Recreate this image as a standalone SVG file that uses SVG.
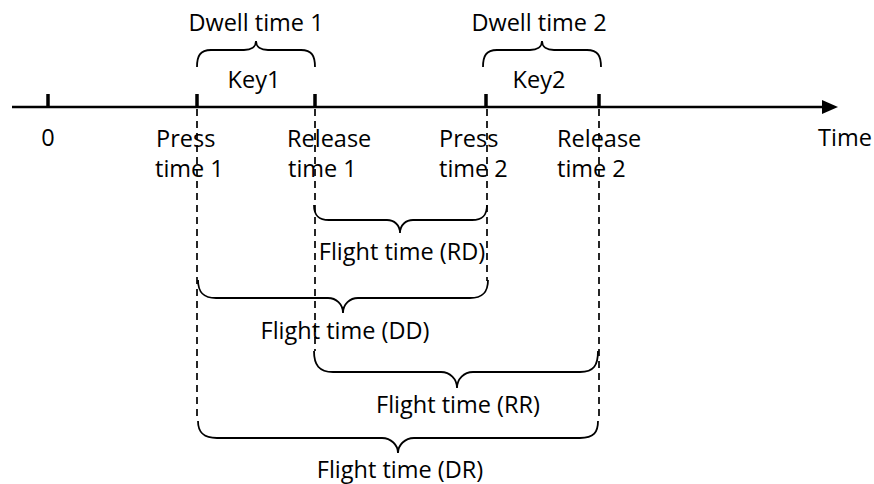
<svg xmlns="http://www.w3.org/2000/svg" width="874" height="484" viewBox="0 0 874 484">
  <style>
    text { font-family: "Open Sans", "Liberation Sans", sans-serif; font-size: 23.5px; fill: #000; }
    .mid { text-anchor: middle; }
    .axis { stroke: #000; stroke-width: 2.5; fill: none; }
    .tick { stroke: #000; stroke-width: 3.5; fill: none; }
    .guide { stroke: #000; stroke-width: 1.7; stroke-dasharray: 7 5; fill: none; }
    .brace { stroke: #000; stroke-width: 1.8; fill: none; }
  </style>
  <defs>
    <marker id="arrow" viewBox="0 0 16 14" refX="0" refY="7" markerWidth="16" markerHeight="14" markerUnits="userSpaceOnUse" orient="auto">
      <path d="M0,0 L16,7 L0,14 Z" fill="#000"/>
    </marker>
  </defs>

  <!-- time axis -->
  <g id="axis">
    <line class="axis" x1="12" y1="107" x2="822" y2="107" marker-end="url(#arrow)"/>
    <line class="tick" x1="48" y1="94" x2="48" y2="107"/>
    <line class="tick" x1="197" y1="94" x2="197" y2="107"/>
    <line class="tick" x1="315" y1="94" x2="315" y2="107"/>
    <line class="tick" x1="486" y1="94" x2="486" y2="107"/>
    <line class="tick" x1="599" y1="94" x2="599" y2="107"/>
    <text x="818" y="146">Time</text>
    <text class="mid" x="48" y="146">0</text>
  </g>

  <!-- event labels -->
  <g id="press1">
    <text x="156" y="147">Press</text>
    <text x="155" y="177">time 1</text>
  </g>
  <g id="release1">
    <text x="287" y="147">Release</text>
    <text x="288" y="177">time 1</text>
  </g>
  <g id="press2">
    <text x="439" y="147">Press</text>
    <text x="439" y="177">time 2</text>
  </g>
  <g id="release2">
    <text x="557" y="147">Release</text>
    <text x="557" y="177">time 2</text>
  </g>

  <!-- dashed guides from the events -->
  <g id="connectors">
    <line class="guide" x1="197" y1="109" x2="197" y2="421"/>
    <line class="guide" x1="315" y1="109" x2="315" y2="351"/>
    <line class="guide" x1="487" y1="109" x2="487" y2="281"/>
    <line class="guide" x1="599" y1="109" x2="599" y2="421"/>
  </g>

  <!-- dwell braces above the axis -->
  <g id="dwell1">
    <path class="brace" d="M197,67 C197,56 200,50 211,50 L244,50 C251,50 256,47 256,41 C256,47 261,50 268,50 L301,50 C312,50 315,56 315,67"/>
    <text class="mid" x="256" y="31">Dwell time 1</text>
    <text class="mid" x="254" y="88">Key1</text>
  </g>
  <g id="dwell2">
    <path class="brace" d="M483,67 C483,56 486,50 497,50 L530,50 C537,50 542,47 542,41 C542,47 547,50 554,50 L587,50 C598,50 601,56 601,67"/>
    <text class="mid" x="539" y="31">Dwell time 2</text>
    <text class="mid" x="539" y="88">Key2</text>
  </g>

  <!-- flight braces below the axis -->
  <g id="flightRD">
    <path class="brace" d="M314,205 C314,215 318,220 329,220 L387,220 C394,220 400,225 400,233 C400,225 406,220 413,220 L472,220 C483,220 487,215 487,205"/>
    <text class="mid" x="402" y="260">Flight time (RD)</text>
  </g>
  <g id="flightDD">
    <path class="brace" d="M198,280 C198,292 203,298 216,298 L328,298 C336,298 343,304 343,313 C343,304 350,298 358,298 L470,298 C483,298 488,292 488,280"/>
    <text class="mid" x="345" y="339">Flight time (DD)</text>
  </g>
  <g id="flightRR">
    <path class="brace" d="M314,351 C314,365 319,372 333,372 L441,372 C450,372 457,379 457,388 C457,379 464,372 473,372 L580,372 C594,372 598,365 598,351"/>
    <text class="mid" x="458" y="413">Flight time (RR)</text>
  </g>
  <g id="flightDR">
    <path class="brace" d="M198,421 C198,432 203,438 217,438 L382,438 C391,438 398,445 398,453 C398,445 405,438 414,438 L580,438 C594,438 598,432 598,421"/>
    <text class="mid" x="400" y="478">Flight time (DR)</text>
  </g>
</svg>
